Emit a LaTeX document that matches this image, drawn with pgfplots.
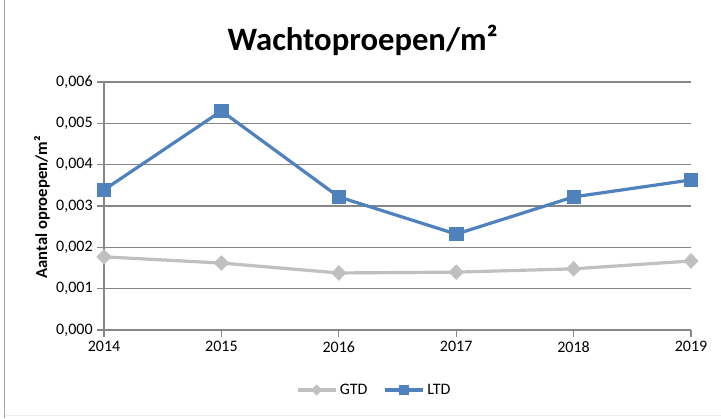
\documentclass[border=0pt]{standalone}
\usepackage{pgfplots}
\pgfplotsset{compat=1.18}
\usepackage{fontspec}
\setmainfont{Carlito}
\definecolor{ltdblue}{RGB}{79,129,189}
\definecolor{gtdgray}{RGB}{192,192,192}
\definecolor{gridgray}{RGB}{134,134,134}
\begin{document}
\begin{tikzpicture}
\useasboundingbox (0pt,0pt) rectangle (540.75pt,313.5pt);
\draw[color=gray!70, line width=1.2pt] (3.4pt,0pt) -- (3.4pt,313.5pt);
\draw[color=gray!15, line width=0.6pt] (3.4pt,2.2pt) -- (540.75pt,2.2pt);
\node[font=\fontsize{24.5}{28}\selectfont\bfseries] at (272pt,283.5pt) {Wachtoproepen/m²};
\node[font=\fontsize{12.5}{14}\selectfont\bfseries, rotate=90] at (31.5pt,158pt) {Aantal oproepen/m²};
\begin{axis}[
  at={(78pt,66pt)}, anchor=south west,
  scale only axis, width=440.25pt, height=186pt,
  xmin=2014, xmax=2019, ymin=0, ymax=0.006,
  xtick={2014,2015,2016,2017,2018,2019},
  xticklabels={2014,2015,2016,2017,2018,2019},
  ytick={0,0.001,0.002,0.003,0.004,0.005,0.006},
  scaled y ticks=false,
  yticklabel style={/pgf/number format/.cd, fixed, fixed zerofill, precision=3, use comma, 1000 sep={}, assume math mode=true},
  ticklabel style={font=\fontsize{12}{14}\selectfont},
  axis x line*=bottom, axis y line*=left,
  axis line style={color=gridgray, line width=0.9pt},
  tick style={color=gridgray, line width=0.9pt},
  major tick length=5pt,
  tick align=outside,
  ymajorgrids, grid style={color=gridgray, line width=0.9pt},
  clip=false,
  legend columns=2,
  legend style={at={(0.461,-0.242)}, anchor=center, draw=none, fill=none, font=\fontsize{12}{14}\selectfont, /tikz/every even column/.append style={column sep=10pt}},
  legend image code/.code={\draw[mark repeat=2,mark phase=2, every mark/.append style={scale=0.7}] plot coordinates {(0cm,0cm)(0.5cm,0cm)(1cm,0cm)};},
]
\addplot[color=gtdgray, line width=2.4pt, mark=diamond*, mark size=5.5pt, mark options={xscale=1.3, line width=0.5pt, fill=gtdgray}] coordinates {
(2014,0.00177) (2015,0.00162) (2016,0.00138) (2017,0.00140) (2018,0.00148) (2019,0.00167)};
\addlegendentry{GTD}
\addplot[color=ltdblue, line width=2.4pt, mark=square*, mark size=5pt, mark options={line width=0.5pt, fill=ltdblue}] coordinates {
(2014,0.00339) (2015,0.00530) (2016,0.00322) (2017,0.00232) (2018,0.00322) (2019,0.00363)};
\addlegendentry{LTD}
\end{axis}
\end{tikzpicture}
\end{document}
